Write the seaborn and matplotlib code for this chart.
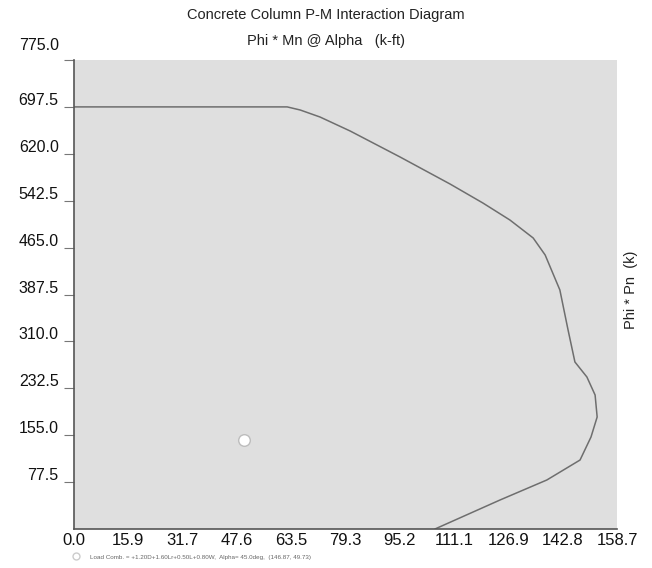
import numpy as np
import pandas as pd
import matplotlib
matplotlib.use("Agg")
import matplotlib.pyplot as plt
import matplotlib.transforms as mtransforms
import seaborn as sns

# ---- data ----
moment_kft = [0.0, 62.3, 66.1, 71.9, 80.7, 95.3, 109.9, 119.5, 127.4, 134.2, 137.7,
              142.0, 144.4, 146.4, 149.9, 152.3, 152.9, 151.1, 147.9, 138.2, 124.5, 105.5]
axial_k = [697.5, 697.5, 692.4, 680.8, 657.7, 614.7, 570.1, 538.7, 510.6, 480.9, 452.8,
           395.0, 328.8, 276.0, 251.2, 221.4, 185.1, 152.0, 114.0, 81.0, 47.9, 0.0]
load_point_m = [49.73]
load_point_p = [146.87]
x_ticks = [0.0, 15.9, 31.7, 47.6, 63.5, 79.3, 95.2, 111.1, 126.9, 142.8, 158.7]
y_ticks = [77.5, 155.0, 232.5, 310.0, 387.5, 465.0, 542.5, 620.0, 697.5, 775.0]
title_text = "Concrete Column P-M Interaction Diagram"
xlabel_text = "Phi * Mn @ Alpha   (k-ft)"
ylabel_text = "Phi * Pn  (k)"
footer_text = "Load Comb. = +1.20D+1.60Lr+0.50L+0.80W,  Alpha= 45.0deg,  (146.87, 49.73)"

curve = pd.DataFrame({"M": moment_kft, "P": axial_k})
pts = pd.DataFrame({"M": load_point_m, "P": load_point_p})

sns.set_theme(style="white")
plt.rcParams["font.family"] = ["Liberation Sans", "DejaVu Sans"]

fig = plt.figure(figsize=(6.52, 5.68), dpi=100)
fig.patch.set_facecolor("white")
W, H = 652, 568
left, right, top, bottom = 74, 617, 60, 529
ax = fig.add_axes([left / W, 1 - bottom / H, (right - left) / W, (bottom - top) / H])
ax.set_facecolor("#dfdfdf")

sns.lineplot(data=curve, x="M", y="P", sort=False, estimator=None, ax=ax,
             color="#6e6e6e", linewidth=1.1)
sns.scatterplot(data=pts, x="M", y="P", ax=ax, s=70, color="white",
                edgecolor="#bdbdbd", linewidth=1.0, zorder=5)

ax.set_xlim(0, 158.7)
ax.set_ylim(0, 775.0)
ax.set_xticks(x_ticks)
ax.set_xticklabels([f"{v:.1f}" for v in x_ticks], fontsize=12)
ax.set_yticks(y_ticks)
ax.set_yticklabels([f"{v:.1f}" for v in y_ticks], fontsize=11.5)
ax.set_xlabel("")
ax.set_ylabel("")

ax.tick_params(axis="x", length=0, pad=3, colors="#111111")
ax.tick_params(axis="y", length=7, width=0.8, pad=4, colors="#111111", left=True)
ax.tick_params(axis="y", color="#777777")
labs = ax.get_yticklabels()
for lab, v in zip(labs, y_ticks):
    up = 16 if v == y_ticks[-1] else 8
    lab.set_transform(lab.get_transform() +
                      mtransforms.ScaledTranslation(0, up / 100, fig.dpi_scale_trans))

for s in ["top", "right"]:
    ax.spines[s].set_visible(False)
ax.spines["left"].set_color("#555555")
ax.spines["left"].set_linewidth(1.2)
ax.spines["bottom"].set_color("#555555")
ax.spines["bottom"].set_linewidth(1.2)

fig.text(326 / W, 1 - 15 / H, title_text, ha="center", va="center", fontsize=10.5, color="#222222")
fig.text(326 / W, 1 - 41 / H, xlabel_text, ha="center", va="center", fontsize=10.5, color="#222222")
fig.text(631 / W, 1 - 290 / H, ylabel_text, ha="center", va="center", rotation=90,
         fontsize=10.5, color="#222222")
fig.text(90 / W, 1 - 557 / H, footer_text, ha="left", va="center", fontsize=4.5, color="#666666")
fig.add_artist(plt.Line2D([76 / W], [1 - 556 / H], marker="o", markersize=5,
                          markerfacecolor="white", markeredgecolor="#cccccc",
                          transform=fig.transFigure))

fig.savefig("out.png", dpi=100)
